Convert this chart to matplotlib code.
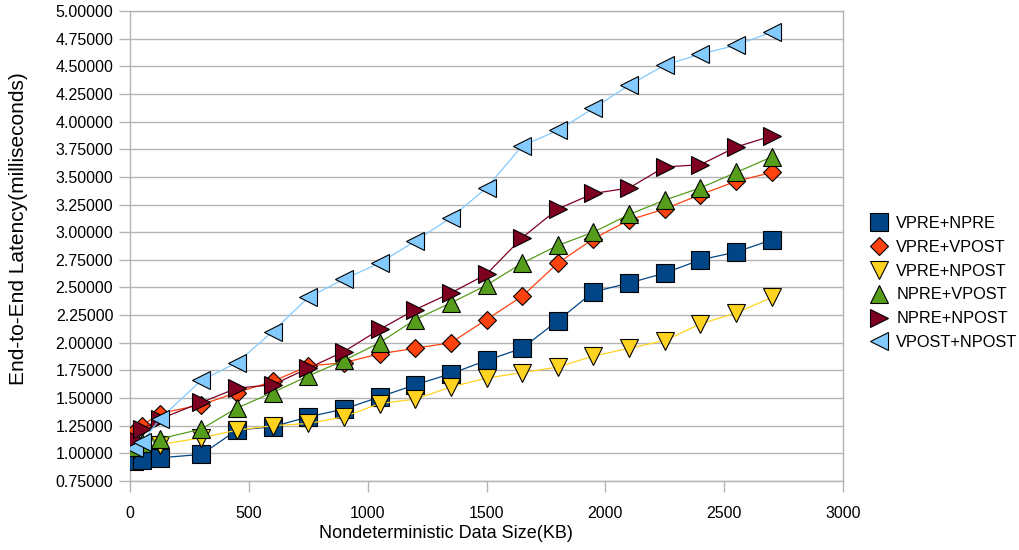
import matplotlib
matplotlib.use("Agg")
import matplotlib.pyplot as plt
from matplotlib.ticker import MultipleLocator, FormatStrFormatter

plt.rcParams['font.family'] = ['Liberation Sans', 'DejaVu Sans']

sizes_kb = [15, 50, 125, 300, 450, 600, 750, 900, 1050, 1200, 1350, 1500,
            1650, 1800, 1950, 2100, 2250, 2400, 2550, 2700]

vpre_npre = [0.93, 0.94, 0.96, 0.99, 1.21, 1.24, 1.33, 1.40, 1.51, 1.62, 1.72, 1.84,
             1.95, 2.20, 2.46, 2.54, 2.63, 2.75, 2.82, 2.93]
vpre_vpost = [1.19, 1.25, 1.36, 1.44, 1.55, 1.65, 1.79, 1.82, 1.90, 1.95, 2.00, 2.21,
              2.42, 2.72, 2.94, 3.11, 3.21, 3.34, 3.46, 3.54]
vpre_npost = [1.04, 1.06, 1.08, 1.14, 1.21, 1.25, 1.27, 1.33, 1.45, 1.49, 1.60, 1.68,
              1.73, 1.78, 1.88, 1.95, 2.02, 2.17, 2.27, 2.41]
npre_vpost = [1.06, 1.09, 1.13, 1.22, 1.41, 1.55, 1.70, 1.84, 2.00, 2.21, 2.36, 2.52,
              2.72, 2.88, 3.00, 3.16, 3.29, 3.40, 3.54, 3.68]
npre_npost = [1.13, 1.22, 1.31, 1.46, 1.59, 1.62, 1.77, 1.92, 2.12, 2.30, 2.45, 2.62,
              2.95, 3.21, 3.35, 3.40, 3.59, 3.61, 3.77, 3.87]
vpost_npost = [1.05, 1.10, 1.31, 1.66, 1.82, 2.10, 2.41, 2.575, 2.72, 2.92, 3.13, 3.40,
               3.78, 3.92, 4.12, 4.33, 4.51, 4.61, 4.69, 4.81]

series_names = ["VPRE+NPRE", "VPRE+VPOST", "VPRE+NPOST", "NPRE+VPOST", "NPRE+NPOST", "VPOST+NPOST"]
series_values = [vpre_npre, vpre_vpost, vpre_npost, npre_vpost, npre_npost, vpost_npost]
colors = ["#004586", "#ff420e", "#ffd320", "#579d1c", "#7e0021", "#83caff"]
markers = ["s", "D", "v", "^", ">", "<"]
msizes = [13, 9.3, 13, 13, 13, 13]

fig = plt.figure(figsize=(10.19, 5.5), dpi=100)
ax = fig.add_axes([130/1019, 1 - 481/550, (843-130)/1019, (481-11)/550])

for name, vals, c, m, ms in zip(series_names, series_values, colors, markers, msizes):
    ax.plot(sizes_kb, vals, color=c, lw=0.9, marker=m, markersize=ms,
            markerfacecolor=c, markeredgecolor="black", markeredgewidth=0.8,
            label=name, zorder=3)

ax.set_xlim(0, 3000)
ax.set_ylim(0.75, 5.0)
ax.xaxis.set_major_locator(MultipleLocator(500))
ax.yaxis.set_major_locator(MultipleLocator(0.25))
ax.yaxis.set_major_formatter(FormatStrFormatter('%.5f'))
ax.grid(axis='y', color='#b3b3b3', lw=1.0, zorder=0)
ax.set_axisbelow(True)
for s in ax.spines.values():
    s.set_color('#b3b3b3')
    s.set_linewidth(1.0)
ax.tick_params(axis='both', direction='out', length=8, width=1.0, color='#b3b3b3',
               labelsize=11.5, labelcolor='black')
ax.tick_params(axis='x', pad=10)
ax.tick_params(axis='y', pad=4)

fig.text(446/1019, 1 - 533/550, "Nondeterministic Data Size(KB)", fontsize=13,
         ha='center', va='center')
fig.text(19/1019, 1 - 229/550, "End-to-End Latency(milliseconds)", fontsize=15,
         ha='center', va='center', rotation=90)

leg = fig.legend(loc='center left', bbox_to_anchor=(871/1019, 1 - 283/550), frameon=False,
                 fontsize=11.8, handlelength=1.0, handletextpad=0.55, labelspacing=0.54,
                 borderaxespad=0, borderpad=0)
for h in leg.legend_handles:
    h.set_linestyle('None')

fig.savefig("out.png", dpi=100)
